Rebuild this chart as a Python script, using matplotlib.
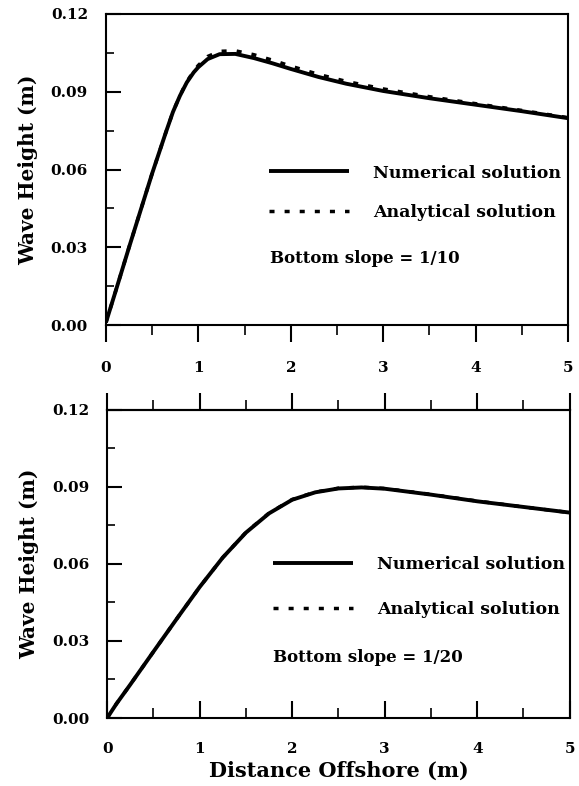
import matplotlib
matplotlib.use('Agg')
import matplotlib.pyplot as plt
from matplotlib.ticker import MultipleLocator, FormatStrFormatter

plt.rcParams['font.family'] = ['DejaVu Serif']
plt.rcParams['font.weight'] = 'bold'

# slope 1/10
x_top = [0, 0.1, 0.25, 0.5, 0.65, 0.725, 0.8, 0.875, 0.95, 1.0, 1.1, 1.23, 1.4,
         1.6, 1.8, 2.0, 2.3, 2.6, 3.0, 3.5, 4.0, 4.5, 5.0]
num_top = [0.001, 0.0125, 0.030, 0.0585, 0.0745, 0.0822, 0.0884, 0.0936, 0.0975,
           0.0995, 0.1026, 0.1045, 0.1046, 0.1030, 0.1010, 0.0988, 0.0957, 0.0931,
           0.0903, 0.0875, 0.0850, 0.0825, 0.0798]
ana_top = [0.001, 0.0125, 0.030, 0.0585, 0.0745, 0.0822, 0.0885, 0.0939, 0.0980,
           0.1002, 0.1036, 0.1056, 0.1058, 0.1043, 0.1022, 0.0999, 0.0967, 0.0940,
           0.0911, 0.0881, 0.0854, 0.0828, 0.0800]

# slope 1/20
x_bot = [0, 0.1, 0.25, 0.5, 0.75, 1.0, 1.25, 1.5, 1.75, 2.0, 2.25, 2.5, 2.75, 3.0,
         3.5, 4.0, 4.5, 5.0]
num_bot = [0.0, 0.0055, 0.0130, 0.0258, 0.0385, 0.0510, 0.0625, 0.0722, 0.0797,
           0.0850, 0.0879, 0.0894, 0.0898, 0.0893, 0.0870, 0.0844, 0.0822, 0.0800]
ana_bot = [0.0, 0.0055, 0.0130, 0.0258, 0.0385, 0.0510, 0.0625, 0.0723, 0.0798,
           0.0851, 0.0880, 0.0895, 0.0899, 0.0894, 0.0871, 0.0845, 0.0822, 0.0800]

slopes = ['1/10', '1/20']


def style_axes(ax, bottom_panel):
    ax.set_xlim(0, 5)
    ax.set_ylim(0, 0.12)
    ax.xaxis.set_major_locator(MultipleLocator(1))
    ax.xaxis.set_minor_locator(MultipleLocator(0.5))
    ax.yaxis.set_major_locator(MultipleLocator(0.03))
    ax.yaxis.set_minor_locator(MultipleLocator(0.015))
    ax.yaxis.set_major_formatter(FormatStrFormatter('%.2f'))
    for s in ax.spines.values():
        s.set_linewidth(1.5)
    ax.tick_params(axis='y', which='major', direction='in', length=11, width=1.5,
                   pad=13, labelsize=11, left=True, right=False)
    ax.tick_params(axis='y', which='minor', direction='in', length=6, width=1.2,
                   left=True, right=False)
    if bottom_panel:
        ax.tick_params(axis='x', which='major', direction='in', length=12, width=1.5,
                       pad=17, labelsize=11, top=False)
        ax.tick_params(axis='x', which='minor', direction='in', length=7, width=1.2,
                       top=False)
        # outward ticks on the top edge
        sec = ax.secondary_xaxis('top')
        sec.xaxis.set_major_locator(MultipleLocator(1))
        sec.xaxis.set_minor_locator(MultipleLocator(0.5))
        sec.tick_params(axis='x', which='major', direction='out', length=12, width=1.5,
                        labeltop=False)
        sec.tick_params(axis='x', which='minor', direction='out', length=7, width=1.2)
        sec.spines['top'].set_linewidth(1.5)
    else:
        ax.tick_params(axis='x', which='major', direction='out', length=12, width=1.5,
                       pad=14, labelsize=11, top=False)
        ax.tick_params(axis='x', which='minor', direction='out', length=7, width=1.2,
                       top=False)


fig = plt.figure(figsize=(5.79, 7.86), dpi=100)
ax1 = fig.add_axes([0.183, 0.5865, 0.798, 0.3957])
ax2 = fig.add_axes([0.185, 0.0865, 0.799, 0.392])

panels = [
    (ax1, x_top, num_top, ana_top, (0.353, 0.516), 1.3, (0.355, 0.215)),
    (ax2, x_bot, num_bot, ana_bot, (0.358, 0.526), 1.6, (0.359, 0.195)),
]

for i, (ax, x, num, ana, leg_pos, spacing, txt_pos) in enumerate(panels):
    ax.plot(x, num, color='black', lw=2.8, solid_capstyle='butt',
            solid_joinstyle='round', label='Numerical solution')
    ax.plot(x, ana, color='black', lw=2.5, dashes=(1.45, 2.9),
            label='Analytical solution')
    style_axes(ax, i == 1)
    ax.set_ylabel('Wave Height (m)', fontsize=14.5, fontweight='bold', labelpad=9)
    ax.legend(loc='upper left', bbox_to_anchor=leg_pos, frameon=False,
              borderpad=0, borderaxespad=0, handlelength=4.6,
              handletextpad=1.4, labelspacing=spacing,
              prop={'weight': 'bold', 'size': 12.5})
    ax.text(txt_pos[0], txt_pos[1], 'Bottom slope = ' + slopes[i],
            transform=ax.transAxes, fontsize=12, fontweight='bold',
            ha='left', va='center')

ax2.set_xlabel('Distance Offshore (m)', fontsize=15, fontweight='bold', labelpad=4)

fig.savefig('out.png', dpi=100)
